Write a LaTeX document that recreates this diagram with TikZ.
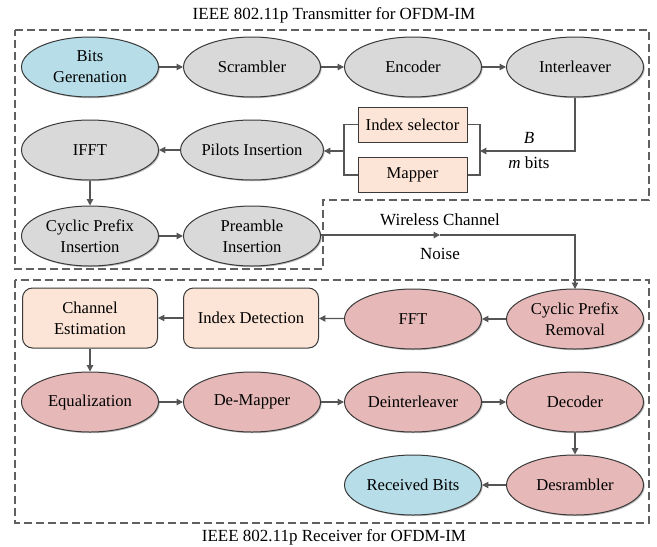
\documentclass[tikz,border=0pt]{standalone}
\usepackage{fontspec}
\setmainfont{Liberation Serif}
\usetikzlibrary{positioning,arrows.meta,calc,shapes.geometric,shadows}
\definecolor{bitsfill}{HTML}{B7DEE8}
\definecolor{txfill}{HTML}{D9D9D9}
\definecolor{rxfill}{HTML}{E6B9B8}
\definecolor{idxfill}{HTML}{FCE4D6}
\definecolor{edge}{HTML}{3A3A3A}
\definecolor{wire}{HTML}{555555}
\definecolor{frame}{HTML}{606060}
\definecolor{shade}{HTML}{B8B8B8}
\newcommand{\blkfont}{\rmfamily\fontsize{8.3}{10.5}\selectfont}
\tikzset{
  blob/.style   = {ellipse, draw=edge, line width=0.5pt, minimum width=68.5pt, minimum height=30pt,
                   inner sep=0pt, align=center, font=\blkfont,
                   drop shadow={fill=shade, opacity=1, shadow xshift=0.6pt, shadow yshift=-0.6pt}},
  bits/.style   = {blob, fill=bitsfill},
  txs/.style    = {blob, fill=txfill},
  rxs/.style    = {blob, fill=rxfill},
  sel/.style    = {rectangle, draw=edge, line width=0.5pt, fill=idxfill, minimum width=54.5pt,
                   minimum height=17.5pt, inner sep=0pt, font=\blkfont},
  det/.style    = {rectangle, rounded corners=5pt, draw=edge, line width=0.5pt, fill=idxfill,
                   minimum width=67.5pt, minimum height=30pt, inner sep=0pt, align=center, font=\blkfont},
  conn/.style   = {-{Triangle[length=3.2pt,width=3.2pt]}, draw=wire, line width=0.6pt},
  link/.style   = {draw=wire, line width=0.6pt},
  zone/.style   = {draw=frame, line width=0.6pt, dash pattern=on 4pt off 2pt},
  heading/.style = {font=\rmfamily\fontsize{8.5}{10}\selectfont},
}
\newcommand{\blk}[4]{\node[#2] (#1) at (#3) {#4};}

\begin{document}
\begin{tikzpicture}[x=0.5pt,y=-0.5pt]
\useasboundingbox (0,0) rectangle (657,546);

% ------------------------------------------------------------------ frames
\draw[zone] (15,30) -- (649,30) -- (649,200) -- (323,200) -- (323,269) -- (15,269) -- cycle;
\draw[zone] (15,280) rectangle (649,523);
\node[heading] (txt) at (334,15)  {IEEE 802.11p Transmitter for OFDM-IM};
\node[heading] (rxt) at (334,537) {IEEE 802.11p Receiver for OFDM-IM};

% ------------------------------------------------------------------ transmitter
\blk{bg}{bits}{90,67}   {Bits\\Gerenation}
\blk{scr}{txs}{252,67}  {Scrambler}
\blk{enc}{txs}{413,67}  {Encoder}
\blk{itl}{txs}{575,67}  {Interleaver}
\blk{ifft}{txs}{90,150} {IFFT}
\blk{pil}{txs}{252,150} {Pilots Insertion}
\blk{cpi}{txs}{90,236}  {Cyclic Prefix\\Insertion}
\blk{pre}{txs}{252,236} {Preamble\\Insertion}
\blk{isel}{sel}{412.5,124.5} {Index selector}
\blk{map}{sel}{412.5,175}    {Mapper}

\foreach \a/\b in {bg/scr, scr/enc, enc/itl, ifft/cpi, cpi/pre}{\draw[conn] (\a) -- (\b);}
\draw[conn] (pil) -- (ifft);

% split / merge of the index bits
\coordinate (jin)  at (480,151);
\coordinate (jout) at (344,151);
\draw[link] (isel.east) -| (jin) |- (map.east);
\draw[link] (isel.west) -| (jout) |- (map.west);
\draw[conn] (itl.south) |- (jin);
\draw[conn] (jout) -- (jout -| pil.east);
\node[heading] (bl) at (529,138) {\itshape B};
\node[heading] (ml) at (529,163) {\itshape m\upshape{} bits};

% ------------------------------------------------------------------ channel
\coordinate (wch) at (440,235);
\coordinate (wcr) at (575,235);
\draw[conn] (pre.east |- wch) -- (wch);
\draw[conn] (wch) -- (wcr) -- (575,289);
\node[heading, above=1pt of wch] (wcl) {Wireless Channel};
\node[heading, below=3pt of wch] (nsl) {Noise};

% ------------------------------------------------------------------ receiver
\blk{cpr}{rxs}{575,319} {Cyclic Prefix\\Removal}
\blk{fft}{rxs}{413,319} {FFT}
\blk{idd}{det}{251,318} {Index Detection}
\blk{che}{det}{90,318}  {Channel\\Estimation}
\blk{equ}{rxs}{90,402}  {Equalization}
\blk{dmp}{rxs}{252,402} {De-Mapper}
\blk{dil}{rxs}{413,402} {Deinterleaver}
\blk{dec}{rxs}{575,402} {Decoder}
\blk{dsc}{rxs}{575,485} {Desrambler}
\blk{rb}{bits}{413,485} {Received Bits}

\foreach \a/\b in {cpr/fft, fft/idd, idd/che, che/equ, equ/dmp, dmp/dil, dil/dec, dec/dsc, dsc/rb}{\draw[conn] (\a) -- (\b);}

\end{tikzpicture}
\end{document}
